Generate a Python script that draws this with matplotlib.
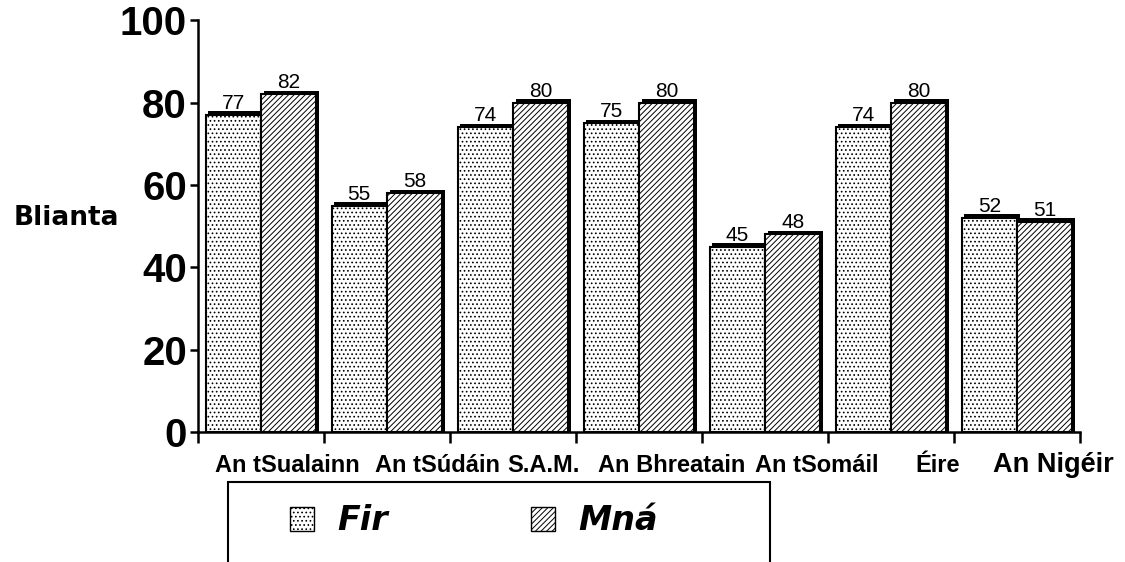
import numpy as np
import matplotlib.pyplot as plt
from matplotlib import font_manager
from matplotlib.patches import Rectangle, Patch

countries = ['An tSualainn', 'An tSúdáin', 'S.A.M.', 'An Bhreatain',
             'An tSomáil', 'Éire', 'An Nigéir']
fir = [77, 55, 74, 75, 45, 74, 52]
mna = [82, 58, 80, 80, 48, 80, 51]
# where each category label sits inside its slot (labels are not centred)
label_pos = [0.71, 0.90, 0.74, 0.76, 0.91, 0.87, 0.79]
label_size = [17, 17, 17, 17, 17, 17, 19.5]


def find_font(fname, fallback):
    for p in font_manager.findSystemFonts():
        if p.endswith(fname):
            return font_manager.FontProperties(fname=p)
    return font_manager.FontProperties(family=fallback, weight='bold')


arial_bold = find_font('LiberationSans-Bold.ttf', 'Liberation Sans')
arial = find_font('LiberationSans-Regular.ttf', 'Liberation Sans')

plt.rcParams['hatch.color'] = '#909090'
plt.rcParams['hatch.linewidth'] = 0.7

fig = plt.figure(figsize=(11.25, 5.62), dpi=100)
ax = fig.add_axes([0.176, 0.231, 0.784, 0.733])

x = np.arange(len(countries))
w = 0.44
left_fir = x + 0.06
left_mna = left_fir + w

# dark "depth" behind each bar for the 3d look
for lefts, vals in [(left_fir, fir), (left_mna, mna)]:
    ax.bar(lefts + 0.022, np.array(vals) + 0.9, width=w, align='edge',
           color='black', zorder=1)

b1 = ax.bar(left_fir, fir, width=w, align='edge', color='white',
            edgecolor='black', linewidth=1.5, hatch='....', zorder=2)
b2 = ax.bar(left_mna, mna, width=w, align='edge', color='white',
            edgecolor='black', linewidth=1.5, hatch='//////', zorder=2)

for bars in (b1, b2):
    labels = ax.bar_label(bars, padding=1.5)
    for t in labels:
        t.set_fontproperties(arial)
        t.set_fontsize(15)

ax.set_xlim(0, len(countries))
ax.set_ylim(0, 100)
ax.set_yticks([0, 20, 40, 60, 80, 100])
ax.set_yticklabels(['0', '20', '40', '60', '80', '100'])
for t in ax.get_yticklabels():
    t.set_fontproperties(arial_bold)
    t.set_fontsize(29)
ax.set_xticks(np.arange(len(countries) + 1))
ax.set_xticklabels([])
ax.tick_params(axis='x', length=8, width=1.8, direction='out')
ax.tick_params(axis='y', length=6, width=1.8, direction='out', pad=2)

for s in ['top', 'right']:
    ax.spines[s].set_visible(False)
for s in ['left', 'bottom']:
    ax.spines[s].set_linewidth(1.8)

for i, name in enumerate(countries):
    t = ax.text(i + label_pos[i], -0.08, name,
                transform=ax.get_xaxis_transform(), ha='center', va='center')
    t.set_fontproperties(arial_bold)
    t.set_fontsize(label_size[i])

fig.text(0.012, 1 - 218 / 562, 'Blianta', ha='left', va='center',
         fontsize=19, fontweight='bold', family='DejaVu Sans')

# legend box runs off the bottom edge
fig.patches.append(Rectangle((228 / 1125, -0.05), 542 / 1125,
                             1 - 482 / 562 + 0.05, transform=fig.transFigure,
                             fill=False, edgecolor='black', linewidth=1.5))
handles = [Patch(facecolor='white', edgecolor='black', hatch='....'),
           Patch(facecolor='white', edgecolor='black', hatch='//////')]
fig.legend(handles, ['Fir', 'Mná'], loc='center',
           bbox_to_anchor=(474 / 1125, 1 - 521 / 562), ncol=2,
           frameon=False, columnspacing=4.3, handlelength=0.72,
           handleheight=0.72, handletextpad=0.7,
           prop={'family': 'DejaVu Sans', 'weight': 'bold',
                 'style': 'italic', 'size': 24})

plt.savefig('out.png', dpi=100)
